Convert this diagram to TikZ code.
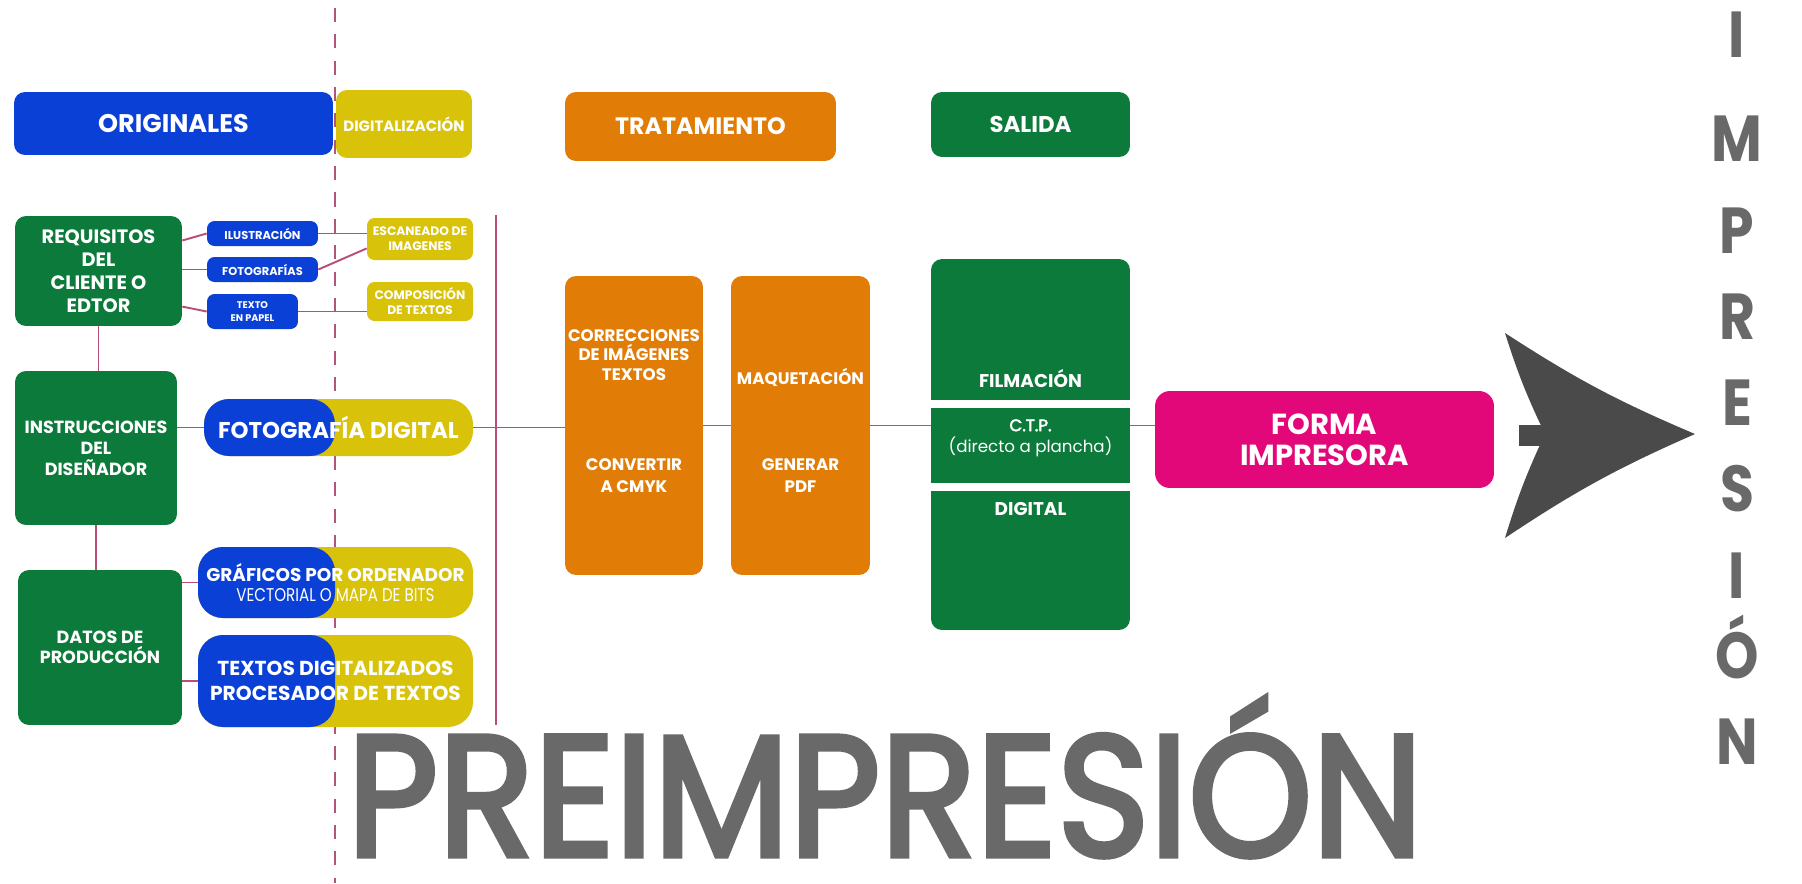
\documentclass[tikz,border=0pt]{standalone}
\usepackage{fontspec}
\setmainfont{Poppins}
\newfontfamily\media{Poppins}[FakeBold=3]
\usepackage{tikz}
\usetikzlibrary{positioning}
\definecolor{azul}{RGB}{10,64,214}
\definecolor{amarillo}{RGB}{216,194,10}
\definecolor{naranja}{RGB}{225,125,6}
\definecolor{verde}{RGB}{12,122,58}
\definecolor{rosa}{RGB}{226,8,122}
\definecolor{linea}{RGB}{185,78,122}
\definecolor{gris}{RGB}{105,105,105}
\definecolor{grisosc}{RGB}{74,74,74}
\newcommand{\tipo}[2]{\fontsize{#1}{#2}\selectfont\bfseries}

\begin{document}
\begin{tikzpicture}[x=0.02cm, y=-0.02cm,
  caja/.style={rounded corners=0.22cm, text=white, align=center, inner sep=0pt},
  azulbox/.style={caja, fill=azul},
  amabox/.style={caja, fill=amarillo},
  narbox/.style={caja, fill=naranja},
  verbox/.style={caja, fill=verde},
  rosabox/.style={caja, fill=rosa, rounded corners=0.3cm},
  mitad/.style={caja, rounded corners=0.5cm, fill=amarillo,
    path picture={\fill[azul] (path picture bounding box.south west) rectangle (corte |- path picture bounding box.north);}},
  union/.style={draw=linea, line width=1.1pt},
  corteline/.style={draw=linea!85!gray, line width=1.6pt, dash pattern=on 8pt off 7pt},
  rotulo/.style={text=white, align=center, inner sep=0pt},
  letra/.style={text=gris, inner sep=0pt, anchor=base, font=\tipo{37}{37}}
]
  \useasboundingbox[fill=white] (0,0) rectangle (1802,883);

  % linea de corte
  \coordinate (corte) at (335,0);
  \coordinate (corteN) at (335,8);
  \coordinate (corteS) at (335,883);
  \draw[corteline] (corteN) -- (corteS);

  % cabeceras
  \node[azulbox, minimum width=6.38cm, minimum height=1.26cm, font=\tipo{14.5}{16}] (orig) at (173.5,123.5) {ORIGINALES};
  \node[amabox, minimum width=2.72cm, minimum height=1.36cm, font=\tipo{8.5}{9}] (digit) at (404,124) {DIGITALIZACIÓN};
  \node[narbox, minimum width=5.42cm, minimum height=1.38cm, font=\tipo{13.5}{15}] (trat) at (700.5,126.5) {TRATAMIENTO};
  \node[verbox, minimum width=3.98cm, minimum height=1.3cm, font=\tipo{13}{15}] (sal) at (1030.5,124.5) {SALIDA};

  % originales
  \node[verbox, minimum width=3.34cm, minimum height=2.2cm, font=\tipo{11}{13}] (req) at (98.5,271) {REQUISITOS\\DEL\\CLIENTE O\\EDTOR};
  \node[azulbox, rounded corners=0.15cm, minimum width=2.22cm, minimum height=0.5cm, font=\tipo{6.5}{7}] (ilus) at (262.5,233.5) {ILUSTRACIÓN};
  \node[azulbox, rounded corners=0.15cm, minimum width=2.22cm, minimum height=0.5cm, font=\tipo{6.5}{7}] (foto) at (262.5,269.5) {FOTOGRAFÍAS};
  \node[azulbox, rounded corners=0.15cm, minimum width=1.82cm, minimum height=0.7cm, font=\tipo{5.5}{7}] (texto) at (252.5,311.5) {TEXTO\\EN PAPEL};
  \node[amabox, rounded corners=0.15cm, minimum width=2.12cm, minimum height=0.84cm, font=\tipo{7}{8.5}] (esc) at (420,239) {ESCANEADO DE\\IMAGENES};
  \node[amabox, rounded corners=0.15cm, minimum width=2.12cm, minimum height=0.78cm, font=\tipo{7}{8.5}] (comp) at (420,301.5) {COMPOSICIÓN\\DE TEXTOS};

  \node[verbox, minimum width=3.24cm, minimum height=3.08cm, font=\tipo{10}{12}] (inst) at (96,448) {INSTRUCCIONES\\DEL\\DISEÑADOR};
  \node[mitad, minimum width=5.38cm, minimum height=1.14cm, font=\tipo{13}{15}] (fdig) at (338.5,427.5) {FOTOGRAFÍA DIGITAL};
  \node[verbox, minimum width=3.28cm, minimum height=3.1cm, font=\tipo{10}{11.5}] (datos) at (100,647.5) {DATOS DE\\PRODUCCIÓN};
  \node[mitad, minimum width=5.5cm, minimum height=1.42cm, font=\tipo{10.5}{11.5}] (graf) at (335.5,582.5) {GRÁFICOS POR ORDENADOR\\\scalebox{0.82}[1]{\mdseries VECTORIAL O MAPA DE BITS}};
  \node[mitad, minimum width=5.5cm, minimum height=1.84cm, font=\tipo{11.5}{14}] (txd) at (335.5,681) {TEXTOS DIGITALIZADOS\\PROCESADOR DE TEXTOS};

  % tratamiento
  \node[narbox, minimum width=2.76cm, minimum height=5.98cm] (corr) at (634,425.5) {};
  \node[narbox, minimum width=2.78cm, minimum height=5.98cm] (maq) at (800.5,425.5) {};
  \node[rotulo, font=\tipo{9.5}{11}] (corrA) at (634,355) {CORRECCIONES\\DE IMÁGENES\\TEXTOS};
  \node[rotulo, font=\tipo{9.5}{12.5}] (corrB) at (634,476) {CONVERTIR\\A CMYK};
  \node[rotulo, font=\tipo{9.5}{11}] (maqA) at (800.5,377) {MAQUETACIÓN};
  \node[rotulo, font=\tipo{9.5}{12.5}] (maqB) at (800.5,476) {GENERAR\\PDF};

  % salida
  \node[verbox, minimum width=3.98cm, minimum height=7.42cm] (out) at (1030.5,444.5) {};
  \draw[white, line width=4pt] (931,404) -- (1130,404);
  \draw[white, line width=4pt] (931,487) -- (1130,487);
  \node[rotulo, font=\tipo{10.5}{12}] (film) at (1030.5,379) {FILMACIÓN};
  \node[rotulo, font=\fontsize{9.5}{12}\selectfont] (ctp) at (1030.5,438) {{\media C.T.P.}\\(directo a plancha)};
  \node[rotulo, font=\tipo{10.5}{12}] (dig) at (1030.5,509) {DIGITAL};

  \node[rosabox, minimum width=6.78cm, minimum height=1.94cm, font=\tipo{16.5}{17.8}] (forma) at (1324.5,439.5) {FORMA\\IMPRESORA};

  % uniones
  \coordinate (busN) at (496,215);
  \coordinate (busS) at (496,725);
  \draw[union] (req.20) -- (ilus.west);
  \draw[union] (req.east |- foto.west) -- (foto.west);
  \draw[union] (req.-23) -- (texto.west);
  \draw[union] (ilus.east) -- (ilus.east -| esc.west);
  \draw[union] (foto.east) -- (esc.190);
  \draw[union] (texto.east) -- (texto.east -| comp.west);
  \draw[union] (req.south) -- (req.south |- inst.north);
  \draw[union] (inst.south) -- (inst.south |- datos.north);
  \draw[union] (inst.east |- fdig.west) -- (fdig.west);
  \draw[union] (datos.east |- graf.west) -- (graf.west);
  \draw[union] (datos.east |- txd.west) -- (txd.west);
  \draw[union] (busN) -- (busS);
  \draw[union] (fdig.east) -- (fdig.east -| corr.west);
  \draw[union] (corr.east) -- (maq.west);
  \draw[union] (maq.east) -- (maq.east -| out.west);
  \draw[union] (out.east |- maq.east) -- (forma.west |- maq.east);

  % flecha
  \fill[grisosc] (1519,425) rectangle (1548,446);
  \fill[grisosc] (1505,333) to[bend right=5] (1695,434) to[bend right=5] (1505,538) to[bend left=4] (1545,434) to[bend left=4] cycle;

  % textos grandes
  \foreach \l/\b [count=\i] in {I/57,M/161,P/253,R/339,E/425,S/511,I/598,Ó/678,N/764}
    \node[letra] (imp\i) at (1737,\b) {\scalebox{0.85}[1]{\l}};
  \node[anchor=base, text=gris, inner sep=0pt, font=\fontsize{98}{98}\selectfont\media] (pre) at (885,856) {\scalebox{0.915}[1]{PREIMPRESIÓN}};
\end{tikzpicture}
\end{document}
